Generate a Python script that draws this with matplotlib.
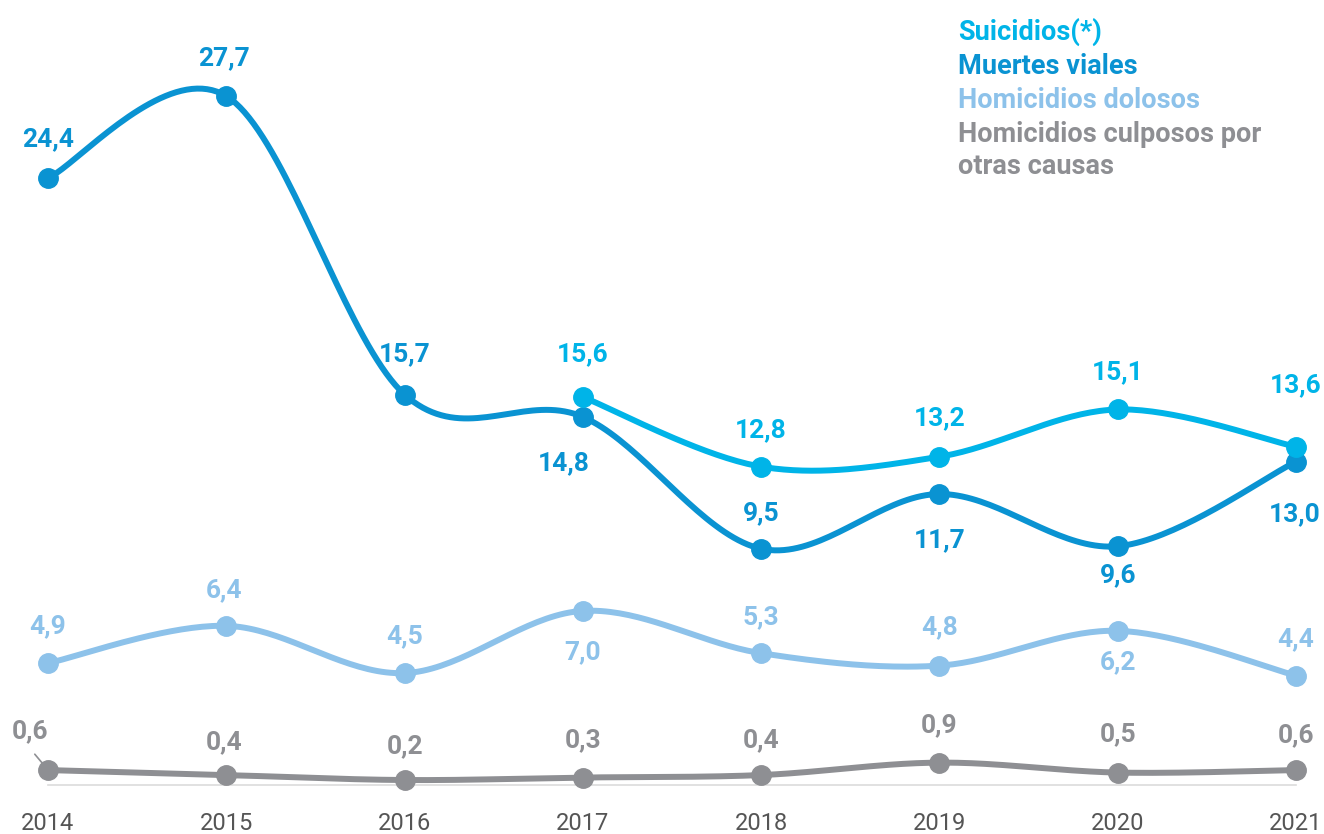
import numpy as np
from matplotlib import pyplot as plt

# tasas por 100.000 habitantes
years = [2014, 2015, 2016, 2017, 2018, 2019, 2020, 2021]
suicidios = [np.nan, np.nan, np.nan, 15.6, 12.8, 13.2, 15.1, 13.6]
muertes_viales = [24.4, 27.7, 15.7, 14.8, 9.5, 11.7, 9.6, 13.0]
hom_dolosos = [4.9, 6.4, 4.5, 7.0, 5.3, 4.8, 6.2, 4.4]
hom_culposos = [0.6, 0.4, 0.2, 0.3, 0.4, 0.9, 0.5, 0.6]

legend_labels = ["Suicidios(*)", "Muertes viales", "Homicidios dolosos",
                 "Homicidios culposos por", "otras causas"]

c_sui = "#00b4e8"
c_mv = "#0a93d2"
c_dol = "#8dc2ea"
c_cul = "#8e8f93"

W, H = 1324, 834
plt.rcParams['font.family'] = ['Roboto', 'DejaVu Sans']


def catmull(x, y, n=40):
    # curva suave tipo catmull-rom entre puntos consecutivos
    x = np.asarray(x, float)
    y = np.asarray(y, float)
    px = np.concatenate([[x[0]], x, [x[-1]]])
    py = np.concatenate([[y[0]], y, [y[-1]]])
    xs, ys = [], []
    for i in range(1, len(px) - 2):
        t = np.linspace(0, 1, n)
        h00 = 2*t**3 - 3*t**2 + 1
        h10 = t**3 - 2*t**2 + t
        h01 = -2*t**3 + 3*t**2
        h11 = t**3 - t**2
        mx0 = (px[i+1] - px[i-1]) / 2
        mx1 = (px[i+2] - px[i]) / 2
        my0 = (py[i+1] - py[i-1]) / 2
        my1 = (py[i+2] - py[i]) / 2
        xs.append(h00*px[i] + h10*mx0 + h01*px[i+1] + h11*mx1)
        ys.append(h00*py[i] + h10*my0 + h01*py[i+1] + h11*my1)
    return np.concatenate(xs), np.concatenate(ys)


fig = plt.figure(figsize=(W/100, H/100), dpi=100)
ax = fig.add_axes([0, 34/H, 1, 1 - 34/H])

pxu = (1296 - 48) / 7
pyu = 24.87
ax.set_xlim(2014 - 48/pxu, 2021 + 28/pxu)
ax.set_ylim(-(800 - 785)/pyu, 785/pyu)

ax.plot([2014, 2021], [0, 0], color="#dcdcdc", lw=1.2, zorder=1)

series = [
    (hom_culposos, c_cul, [(-18, 39), (-2, 33), (0, 34), (0, 37), (0, 35), (0, 37), (0, 38), (0, 35)]),
    (hom_dolosos, c_dol, [(0, 37), (-2, 36), (0, 37), (0, -41), (0, 36), (0, 38), (0, -31), (0, 36)]),
    (muertes_viales, c_mv, [(0, 39), (-2, 38), (0, 40), (-19, -46), (0, 36), (0, -46), (0, -29), (-1, -53)]),
    (suicidios, c_sui, [(0, 43), (0, 36), (0, 38), (0, 37), (0, 62)]),
]

for vals, col, offs in series:
    arr = np.array(vals, float)
    ok = ~np.isnan(arr)
    xv = np.array(years, float)[ok]
    yv = arr[ok]
    cx, cy = catmull(xv, yv)
    ax.plot(cx, cy, color=col, lw=4.3, solid_capstyle='round', zorder=2)
    ax.plot(xv, yv, 'o', color=col, ms=14, zorder=3)
    for x, y, (dx, dy) in zip(xv, yv, offs):
        ax.annotate(f"{y:.1f}".replace(".", ","), (x, y), xytext=(dx, dy),
                    textcoords='offset pixels', ha='center', va='center',
                    fontsize=19, fontweight='bold', color=col, zorder=4)

# linea guia del 0,6 de 2014
ax.annotate("", (2014 - 2/pxu, 0.6 + 0.1), xytext=(2014 - 15/pxu, 0.6 + 18/pyu),
            arrowprops=dict(arrowstyle='-', color=c_cul, lw=1.2))

ax.set_xticks(years)
ax.set_xticklabels([str(y) for y in years], fontsize=17, color="#555555")
ax.tick_params(axis='x', length=0, pad=9)
ax.set_yticks([])
for s in ax.spines.values():
    s.set_visible(False)

leg_cols = [c_sui, c_mv, c_dol, c_cul, c_cul]
leg_y = [32, 67, 100, 134, 167]
for txt, col, yy in zip(legend_labels, leg_cols, leg_y):
    fig.text(958/W, 1 - yy/H, txt, color=col, fontsize=19.5, fontweight='bold',
             ha='left', va='center')

fig.savefig("out.png", dpi=100)
